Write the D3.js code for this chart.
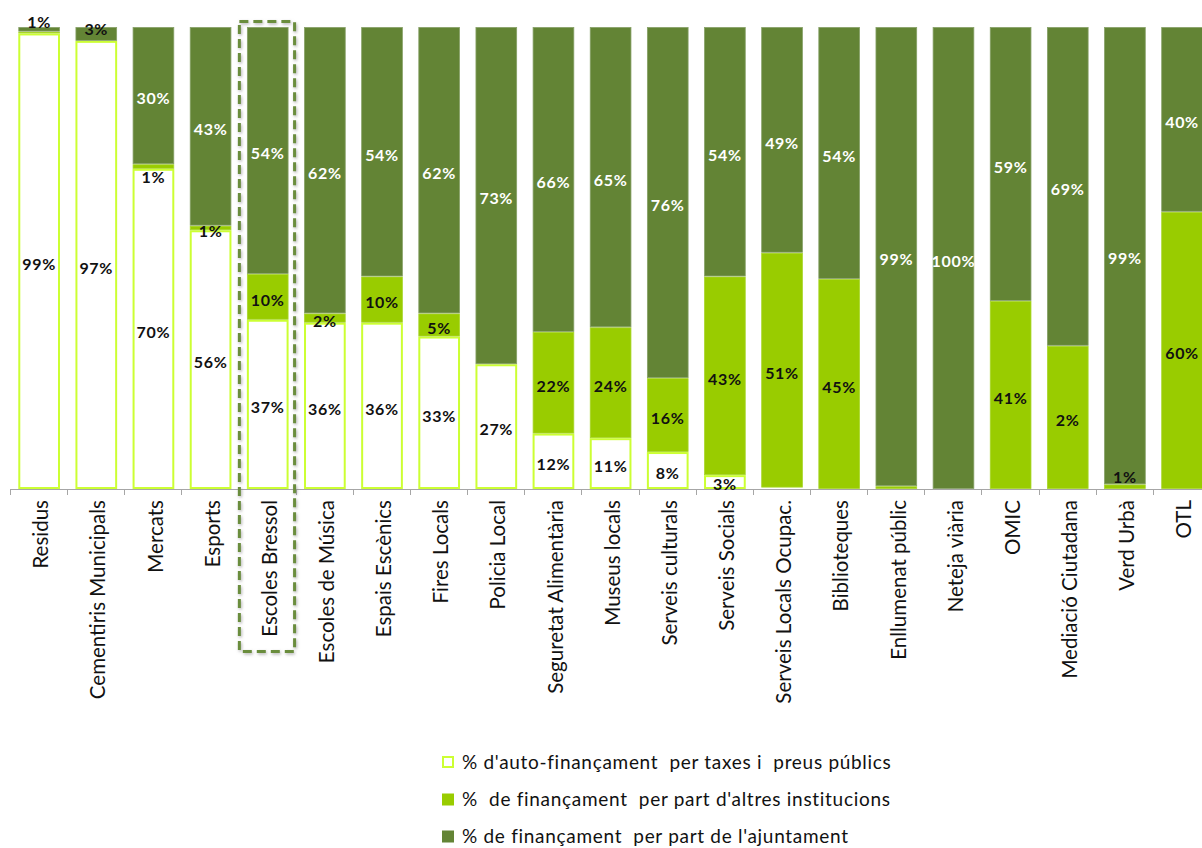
<!DOCTYPE html>
<html>
<head>
<meta charset="utf-8">
<script src="https://cdn.jsdelivr.net/npm/d3@7"></script>
<style>
  html, body { margin: 0; padding: 0; background: #ffffff; }
  svg { display: block; }
</style>
</head>
<body>
<svg id="chart" width="1202" height="848"></svg>
<script>
// Serveis municipals: estructura de finançament (%)
const categories = [
  "Residus", "Cementiris Municipals", "Mercats", "Esports", "Escoles Bressol",
  "Escoles de Música", "Espais Escènics", "Fires Locals", "Policia Local",
  "Seguretat Alimentària", "Museus locals", "Serveis culturals", "Serveis Socials",
  "Serveis Locals Ocupac.", "Biblioteques", "Enllumenat públic", "Neteja viària",
  "OMIC", "Mediació Ciutadana", "Verd Urbà", "OTL"
];

// % d'auto-finançament per taxes i preus públics
const autoFinancament = [99, 97, 70, 56, 37, 36, 36, 33, 27, 12, 11, 8, 3, 0.3, 0, 0, 0, 0, 0, 0, 0];
// % de finançament per part d'altres institucions
const altresInstitucions = [0.4, 0, 1, 1, 10, 2, 10, 5, 0, 22, 24, 16, 43, 51, 45, 0.6, 0, 40.5, 31, 1, 60];
// % de finançament per part de l'ajuntament
const ajuntament = [1, 3, 30, 43, 54, 62, 54, 62, 73, 66, 65, 76, 54, 49, 54, 99, 100, 59, 69, 99, 40];

// Labels printed on the chart (Mediació Ciutadana carries "2%" on its middle segment)
const labelAuto = ["99%", "97%", "70%", "56%", "37%", "36%", "36%", "33%", "27%", "12%", "11%", "8%", "3%", "", "", "", "", "", "", "", ""];
const labelAltres = ["", "", "1%", "1%", "10%", "2%", "10%", "5%", "", "22%", "24%", "16%", "43%", "51%", "45%", "", "", "41%", "2%", "1%", "60%"];
const labelAjuntament = ["1%", "3%", "30%", "43%", "54%", "62%", "54%", "62%", "73%", "66%", "65%", "76%", "54%", "49%", "54%", "99%", "100%", "59%", "69%", "99%", "40%"];

const seriesNames = [
  "% d'auto-finançament  per taxes i  preus públics",
  "%  de finançament  per part d'altres institucions",
  "% de finançament  per part de l'ajuntament"
];
const highlighted = "Escoles Bressol";

const keys = ["auto", "altres", "ajuntament"];
const fills = { auto: "#ffffff", altres: "#99cc00", ajuntament: "#638435" };
const strokes = { auto: "#ccff33", altres: "#a8d62a", ajuntament: "#86a066" };
const textColors = { auto: "#111111", altres: "#111111", ajuntament: "#ffffff" };
const labels = { auto: labelAuto, altres: labelAltres, ajuntament: labelAjuntament };

const rows = categories.map((c, i) => ({
  category: c,
  auto: autoFinancament[i],
  altres: altresInstitucions[i],
  ajuntament: ajuntament[i]
}));

const svg = d3.select("#chart");
const baseY = 489, topY = 27;
const step = 57.2, left = 10;

const x = d3.scaleBand()
  .domain(categories)
  .range([left, left + step * categories.length])
  .paddingInner(0.27)
  .paddingOuter(0.145);

const y = d3.scaleLinear().domain([0, 1]).range([baseY, topY]);

const stacked = d3.stack().keys(keys).offset(d3.stackOffsetExpand)(rows);

// shadow for the highlight frame
const defs = svg.append("defs");
const shadow = defs.append("filter").attr("id", "frameShadow")
  .attr("x", "-20%").attr("y", "-5%").attr("width", "140%").attr("height", "110%");
shadow.append("feDropShadow")
  .attr("dx", 1).attr("dy", 1.5).attr("stdDeviation", 1.6)
  .attr("flood-color", "#777").attr("flood-opacity", 0.55);

// bars
const layers = svg.append("g").selectAll("g")
  .data(stacked)
  .join("g")
  .attr("fill", d => fills[d.key])
  .attr("stroke", d => strokes[d.key]);

layers.selectAll("rect")
  .data(d => d.map(p => ({ key: d.key, p })))
  .join("rect")
  .attr("x", d => x(d.p.data.category) + (d.key === "auto" ? 1 : 0.5))
  .attr("width", d => x.bandwidth() - (d.key === "auto" ? 2 : 1))
  .attr("y", d => y(d.p[1]) + (d.key === "auto" ? 1 : 0.5))
  .attr("height", d => Math.max(0, y(d.p[0]) - y(d.p[1]) - (d.key === "auto" ? 2 : 1)))
  .attr("stroke-width", d => d.key === "auto" ? 2 : 0.8)
  .attr("display", d => (d.p[1] - d.p[0]) > 0.0005 ? null : "none");

// axis line with ticks between categories
const axisG = svg.append("g");
axisG.append("line")
  .attr("x1", left).attr("x2", 1202)
  .attr("y1", baseY + 0.5).attr("y2", baseY + 0.5)
  .attr("stroke", "#a6a6a6").attr("stroke-width", 1);
axisG.selectAll("line.tick")
  .data(d3.range(categories.length + 1))
  .join("line")
  .attr("class", "tick")
  .attr("x1", i => Math.round(left + i * x.step()) + 0.5)
  .attr("x2", i => Math.round(left + i * x.step()) + 0.5)
  .attr("y1", baseY).attr("y2", baseY + 6)
  .attr("stroke", "#a6a6a6").attr("stroke-width", 1);

// category labels, rotated
svg.append("g").selectAll("text")
  .data(categories)
  .join("text")
  .attr("transform", c => `translate(${x(c) + x.bandwidth() / 2 + 2},${baseY + 11}) rotate(-90)`)
  .attr("text-anchor", "end")
  .attr("dy", "0.35em")
  .style("font-family", "Lato, 'Open Sans', sans-serif")
  .style("font-size", "20.5px")
  .attr("fill", "#111")
  .text(c => c);

// data labels: centred in segment, small segments nudged clear of neighbours
const labelNudge = {
  "Residus|ajuntament": -7,
  "Cementiris Municipals|ajuntament": -5,
  "Mercats|altres": 11,
  "Verd Urbà|altres": -9,
  "Serveis Socials|auto": 2
};
const labelData = [];
stacked.forEach(layer => {
  layer.forEach((p, i) => {
    const txt = labels[layer.key][i];
    if (!txt) return;
    const cat = p.data.category;
    const nudge = labelNudge[cat + "|" + layer.key];
    labelData.push({
      key: layer.key, txt,
      cx: x(cat) + x.bandwidth() / 2,
      cy: (y(p[0]) + y(p[1])) / 2 + (nudge !== undefined ? nudge : 3),
      color: (layer.key === "ajuntament" && (p[1] - p[0]) < 0.05) ? "#111111" : textColors[layer.key]
    });
  });
});
svg.append("g").selectAll("text")
  .data(labelData)
  .join("text")
  .attr("x", d => d.cx)
  .attr("y", d => d.cy)
  .attr("dy", "0.36em")
  .attr("text-anchor", "middle")
  .style("font-family", "Lato, 'Open Sans', sans-serif")
  .style("font-weight", "bold")
  .style("font-size", "16px")
  .style("letter-spacing", "0.7px")
  .attr("fill", d => d.color)
  .text(d => d.txt);

// highlight frame around one category
const hx = x(highlighted);
svg.append("rect")
  .attr("x", hx - 7.5).attr("y", 21.5)
  .attr("width", x.bandwidth() + 13.5).attr("height", 630)
  .attr("fill", "none")
  .attr("stroke", "#6a8d3c").attr("stroke-width", 3)
  .attr("stroke-dasharray", "9,5")
  .attr("filter", "url(#frameShadow)");

// legend
const legend = svg.append("g").attr("transform", "translate(442,0)");
const legendRows = [
  { key: "auto", name: seriesNames[0], cy: 762 },
  { key: "altres", name: seriesNames[1], cy: 799.5 },
  { key: "ajuntament", name: seriesNames[2], cy: 836.5 }
];
legend.selectAll("rect")
  .data(legendRows)
  .join("rect")
  .attr("x", d => d.key === "auto" ? 1 : 0)
  .attr("y", d => d.cy - 6 + (d.key === "auto" ? 1 : 0))
  .attr("width", d => d.key === "auto" ? 10 : 12)
  .attr("height", d => d.key === "auto" ? 10 : 12)
  .attr("fill", d => fills[d.key])
  .attr("stroke", d => d.key === "auto" ? strokes.auto : "none")
  .attr("stroke-width", 2);
legend.selectAll("text")
  .data(legendRows)
  .join("text")
  .attr("x", 20)
  .attr("y", d => d.cy)
  .attr("dy", "0.35em")
  .style("font-family", "Lato, 'Open Sans', sans-serif")
  .style("font-size", "19px")
  .style("letter-spacing", "0.7px")
  .style("white-space", "pre")
  .attr("fill", "#111")
  .text(d => d.name);
</script>
</body>
</html>
